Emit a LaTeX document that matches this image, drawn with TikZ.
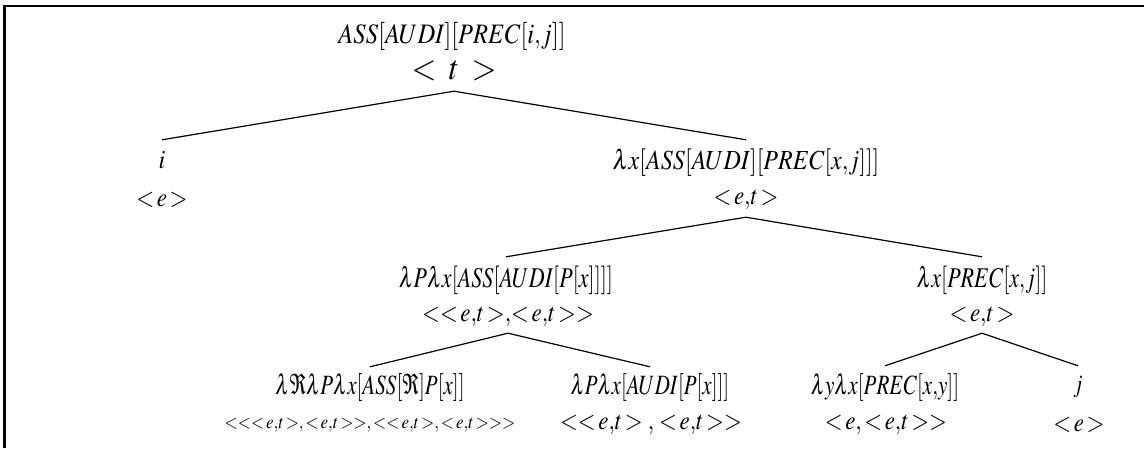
\documentclass[tikz,border=0pt]{standalone}
\usepackage{mathptmx}
\usepackage{graphicx}
\newcommand\St[2]{\scalebox{1}[#1]{$#2$}}
\newcommand\cm{{,}}
\newcommand\La{\mathord{<}}
\newcommand\Ra{\mathord{>}}
\newcommand\gsp{\mkern2mu}
\begin{document}
\begin{tikzpicture}[x=1pt,y=-1pt,
  lab/.style={inner sep=0pt, minimum height=44pt, font=\fontsize{21}{25}\selectfont},
  typ/.style={inner sep=0pt, minimum height=32pt, font=\fontsize{23}{27}\selectfont},
  edge/.style={line width=1.2pt}]
\useasboundingbox (0,0) rectangle (1144,448);
\draw[line width=2.6pt, line join=miter] (4.5,448) -- (4.5,6) -- (1144,6);
% root
\node[lab, font=\fontsize{24.5}{28}\selectfont] (r) at (452,36) {\St{1.15}{ASS[AUDI][PREC[i\cm j]]}};
\node[typ, minimum height=40pt, font=\fontsize{32}{36}\selectfont] (rt) at (454,71) {\St{1.08}{\La\mkern7mu t\mkern7mu\Ra}};
% level 1
\node[lab, minimum height=40pt, font=\fontsize{24}{28}\selectfont] (i) at (162,160) {\St{1.1}{i}};
\node[typ] (it) at (162,200) {\St{1.15}{\La\gsp e\gsp\Ra}};
\node[lab, minimum height=46pt, font=\fontsize{24}{28}\selectfont] (a) at (746,163) {\St{1.15}{\lambda x[ASS[AUDI][PREC[x\cm j]]]}};
\node[typ, minimum height=34pt] (at) at (746,200) {\St{1.15}{\La\gsp e\cm t\gsp\Ra}};
% level 2
\node[lab, minimum height=46pt, font=\fontsize{22}{26}\selectfont] (b) at (506,280) {\St{1.3}{\lambda P\lambda x[ASS[AUDI[P[x]]]]}};
\node[typ] (bt) at (508,317) {\St{1.15}{\La\La\gsp e\cm t\gsp\Ra\cm\La\gsp e\cm t\gsp\Ra\Ra}};
\node[lab, minimum height=46pt, font=\fontsize{22}{26}\selectfont] (c) at (982,280) {\St{1.3}{\lambda x[PREC[x\cm j]]}};
\node[typ] (ct) at (982,317) {\St{1.15}{\La\gsp e\cm t\gsp\Ra}};
% level 3
\node[lab, minimum height=42pt] (d) at (370,388) {\St{1.33}{\lambda\Re\lambda P\lambda x[ASS[\Re]P[x]]}};
\node[typ, font=\fontsize{17}{20}\selectfont] (dt) at (370,425) {\St{1.12}{\La\La\La\gsp e\cm t\gsp\Ra,\La\gsp e\cm t\gsp\Ra\Ra,\La\La\gsp e\cm t\gsp\Ra,\La\gsp e\cm t\gsp\Ra\Ra\Ra}};
\node[lab, minimum height=42pt] (e) at (650,388) {\St{1.33}{\lambda P\lambda x[AUDI[P[x]]]}};
\node[typ] (et) at (651,425) {\St{1.15}{\La\La\gsp e\cm t\gsp\Ra\mkern4mu\cm\mkern4mu\La\gsp e\cm t\gsp\Ra\Ra}};
\node[lab, minimum height=44pt] (f) at (885,388) {\St{1.33}{\lambda y\lambda x[PREC[x\cm y]]}};
\node[typ] (ft) at (886,425) {\St{1.15}{\La\gsp e,\La\gsp e\cm t\gsp\Ra\Ra}};
\node[lab, minimum height=42pt] (g) at (1078,387) {\St{1.2}{j}};
\node[typ] (gt) at (1079,425) {\St{1.15}{\La\gsp e\gsp\Ra}};
% edges
\draw[edge] (rt.south) -- (i.north);
\draw[edge] (rt.south) -- (a.north);
\draw[edge] (at.south) -- (b.north);
\draw[edge] (at.south) -- (c.north);
\draw[edge] (bt.south) -- (d.north);
\draw[edge] (bt.south) -- (e.north);
\draw[edge] (ct.south) -- (f.north);
\draw[edge] (ct.south) -- (g.north);
\end{tikzpicture}
\end{document}
